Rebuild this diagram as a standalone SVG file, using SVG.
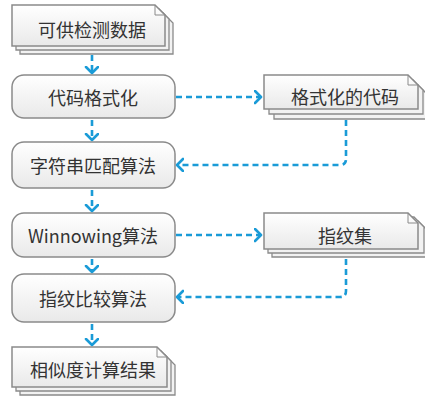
<svg xmlns="http://www.w3.org/2000/svg" width="425" height="398" viewBox="0 0 425 398">
<defs>
<linearGradient id="g" x1="0" y1="0" x2="0" y2="1">
<stop offset="0" stop-color="#ffffff"/>
<stop offset="1" stop-color="#e9e9e9"/>
</linearGradient>
<marker id="ah" markerUnits="userSpaceOnUse" markerWidth="14" markerHeight="16" refX="7" refY="7" orient="auto">
<path d="M1,1 L7,7 L1,13" fill="none" stroke="#1a9bd7" stroke-width="2.6" stroke-linecap="round" stroke-linejoin="round"/>
</marker>
</defs>
<style>
.box{fill:url(#g);stroke:#8a8a8a;stroke-width:1.5}
.back{fill:#f2f2f2;stroke:#8a8a8a;stroke-width:1.3}
.fold{fill:none;stroke:#8a8a8a;stroke-width:1}
.t{font-family:"Noto Sans CJK SC","Noto Sans",sans-serif;font-size:18px;fill:#333333;text-anchor:middle;dominant-baseline:central}
.c{fill:none;stroke:#1a9bd7;stroke-width:2.6;stroke-dasharray:6 4;marker-end:url(#ah)}
</style>
<g id="connectors">
<path class="c" d="M92,55 V73"/>
<path class="c" d="M92,120 V140"/>
<path class="c" d="M92,190 V211"/>
<path class="c" d="M92,259 V272"/>
<path class="c" d="M92,324 V345"/>
<path class="c" d="M176,97 H261"/>
<path class="c" d="M346,120 V159 Q346,165 340,165 H177"/>
<path class="c" d="M176,235 H261"/>
<path class="c" d="M346,259 V291 Q346,297 340,297 H177"/>
</g>
<g id="n1">
<path class="back" d="M20,13 H163 L173,23 V54 H20 Z"/>
<path class="back" d="M16,9 H159 L169,19 V50 H16 Z"/>
<path class="box" d="M12,5 H155 L165,15 V46 H12 Z"/>
<path class="fold" d="M155,5 V15 H165"/>
<text class="t" x="92" y="29">可供检测数据</text>
</g>
<g id="n2">
<rect class="box" x="12" y="75" width="163" height="43" rx="12"/>
<text class="t" x="93" y="97">代码格式化</text>
</g>
<g id="n3">
<rect class="box" x="12" y="142" width="163" height="46" rx="12"/>
<text class="t" x="93" y="165">字符串匹配算法</text>
</g>
<g id="n4">
<rect class="box" x="12" y="213" width="163" height="44" rx="12"/>
<text class="t" x="93" y="235">Winnowing算法</text>
</g>
<g id="n5">
<rect class="box" x="12" y="274" width="163" height="48" rx="12"/>
<text class="t" x="93" y="298">指纹比较算法</text>
</g>
<g id="n6">
<path class="back" d="M20,355 H165 L175,365 V395 H20 Z"/>
<path class="back" d="M16,351 H161 L171,361 V391 H16 Z"/>
<path class="box" d="M12,347 H157 L167,357 V387 H12 Z"/>
<path class="fold" d="M157,347 V357 H167"/>
<text class="t" x="93" y="369">相似度计算结果</text>
</g>
<g id="n7">
<path class="back" d="M274,85 H418 L428,95 V119 H274 Z"/>
<path class="back" d="M269,80 H413 L423,90 V114 H269 Z"/>
<path class="box" d="M264,75 H408 L418,85 V109 H264 Z"/>
<path class="fold" d="M408,75 V85 H418"/>
<text class="t" x="345" y="96">格式化的代码</text>
</g>
<g id="n8">
<path class="back" d="M272,221 H418 L428,231 V257 H272 Z"/>
<path class="back" d="M268,217 H414 L424,227 V253 H268 Z"/>
<path class="box" d="M264,213 H408 L418,223 V249 H264 Z"/>
<path class="fold" d="M408,213 V223 H418"/>
<text class="t" x="345" y="235">指纹集</text>
</g>
</svg>
